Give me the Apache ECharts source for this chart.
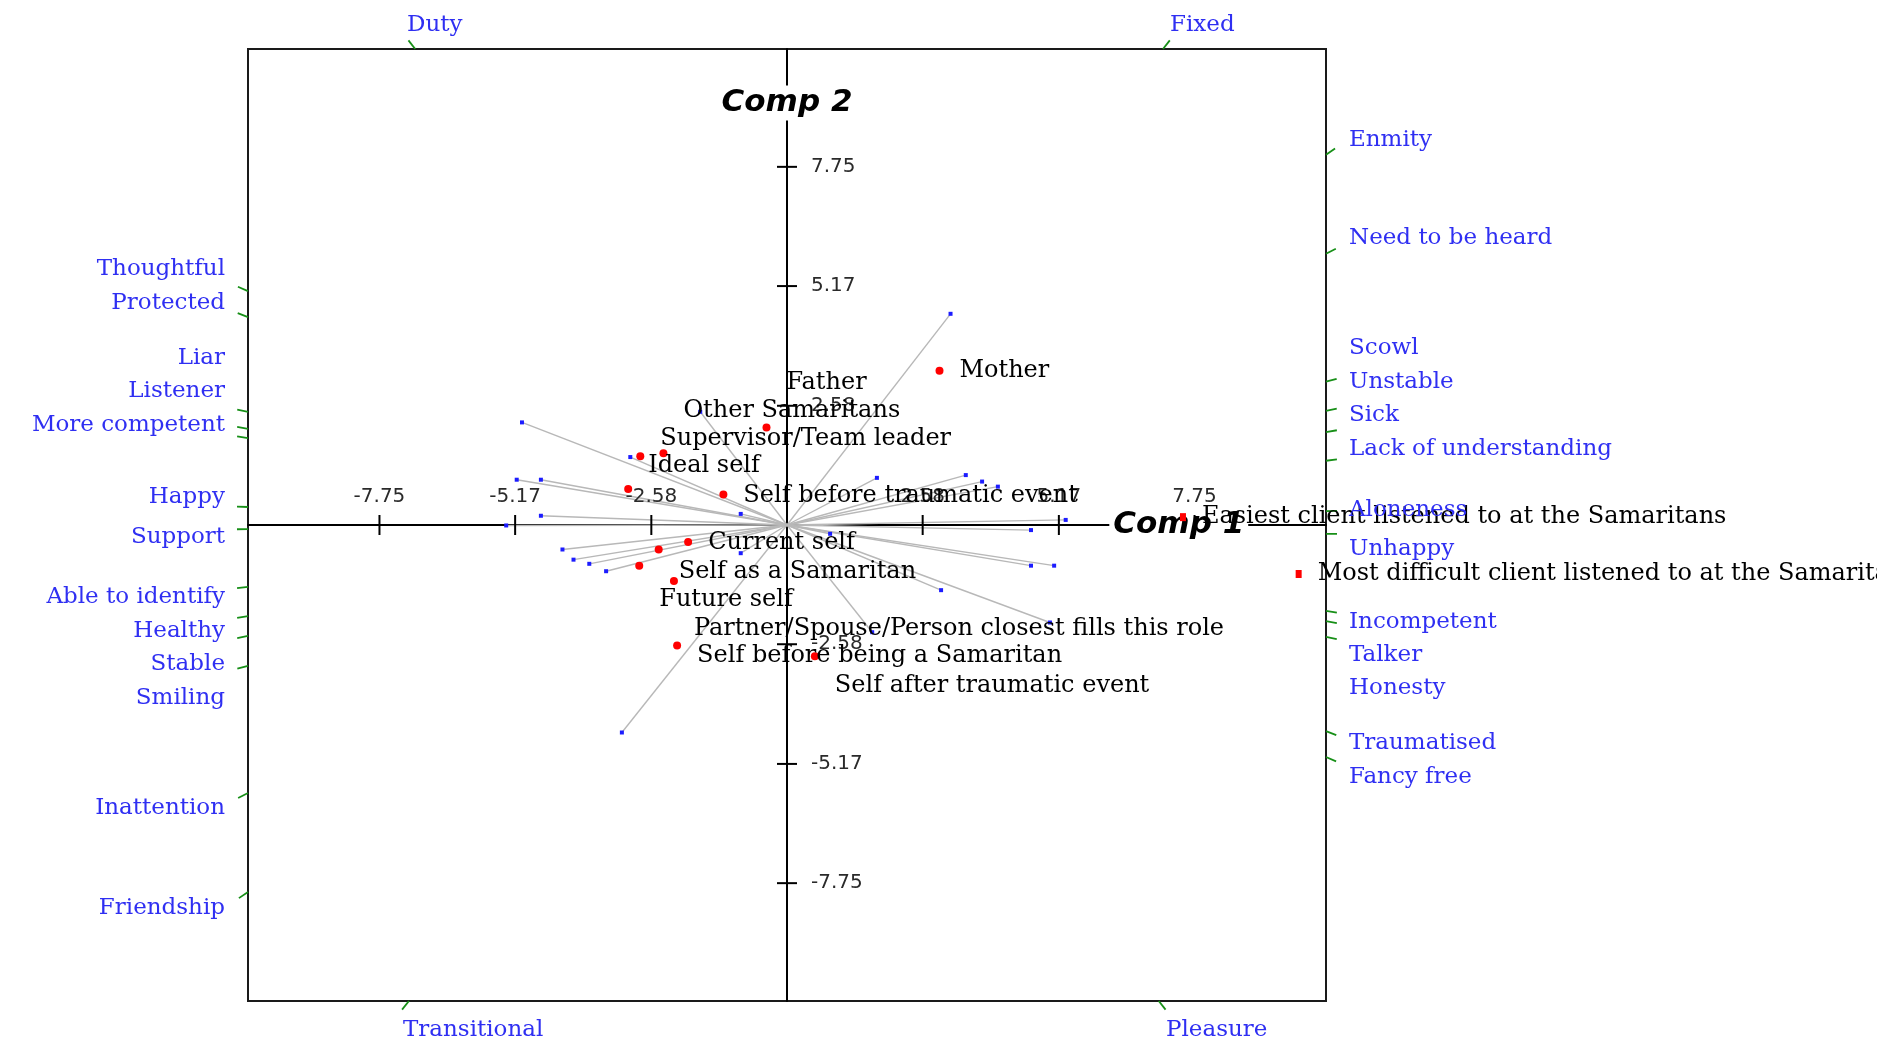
<!DOCTYPE html>
<html>
<head>
<meta charset="utf-8">
<title>Repertory grid biplot</title>
<script src="https://cdn.jsdelivr.net/npm/echarts@6/dist/echarts.min.js"></script>
<style>
  html, body { margin: 0; padding: 0; background: #fff; }
  #chart { width: 1877px; height: 1042px; }
</style>
</head>
<body>
<div id="chart"></div>
<script>
// elements (red points)
const elementNames = [
  'Mother', 'Father', 'Other Samaritans', 'Supervisor/Team leader', 'Ideal self',
  'Self before traumatic event', 'Current self', 'Self as a Samaritan', 'Future self',
  'Partner/Spouse/Person closest fills this role', 'Self before being a Samaritan',
  'Self after traumatic event', 'Easiest client listened to at the Samaritans',
  'Most difficult client listened to at the Samaritans'
]
const elementX = [2.90, -0.39, -2.35, -2.79, -3.02, -1.21, -1.88, -2.44, -2.81, -2.15, -2.09, 0.53, 7.53, 9.73]
const elementY = [3.34, 2.11, 1.55, 1.49, 0.78, 0.66, -0.37, -0.53, -0.88, -1.21, -2.61, -2.84, 0.17, -1.06]

// construct vectors (grey lines ending in blue points)
const vectorX = [-5.04, -5.14, -4.68, -4.68, -5.34, -2.98, -0.88, -0.88, -4.27, -4.06, -3.76, -3.44, -3.14, -1.65,
  3.11, 1.71, 3.40, 3.71, 4.01, 5.30, 4.64, 4.64, 5.08, 2.93, 5.00, 0.82, 1.62]
const vectorY = [2.22, 0.98, 0.98, 0.20, -0.01, 1.47, 0.24, -0.61, -0.53, -0.75, -0.84, -1.00, -4.49, 2.45,
  4.57, 1.02, 1.08, 0.94, 0.83, 0.11, -0.11, -0.88, -0.88, -1.41, -2.11, -0.19, -2.32]

// axis ticks
const xTicks = [-7.75, -5.17, -2.58, 2.58, 5.17, 7.75]
const yTicks = [-7.75, -5.17, -2.58, 2.58, 5.17, 7.75]
const tickLabels = ['-7.75', '-5.17', '-2.58', '2.58', '5.17', '7.75']

// construct poles on the frame
const leftPoles = ['Thoughtful', 'Protected', 'Liar', 'Listener', 'More competent', 'Happy', 'Support',
  'Able to identify', 'Healthy', 'Stable', 'Smiling', 'Inattention', 'Friendship']
const leftPoleY = [5.06, 4.50, 2.45, 2.08, 1.88, 0.39, -0.09, -1.34, -1.97, -2.40, -3.05, -5.80, -7.94]
const rightPoles = ['Enmity', 'Need to be heard', 'Scowl', 'Unstable', 'Sick', 'Lack of understanding',
  'Aloneness', 'Unhappy', 'Incompetent', 'Talker', 'Honesty', 'Traumatised', 'Fancy free']
const rightPoleY = [8.01, 5.87, 3.10, 2.47, 2.01, 1.39, 0.30, -0.19, -1.86, -2.08, -2.42, -4.46, -5.02]
const topPoles = ['Duty', 'Fixed']
const topPoleX = [-7.07, 7.15]
const bottomPoles = ['Transitional', 'Pleasure']
const bottomPoleX = [-7.19, 7.07]

// layout only
const X_MIN = -10.25, X_MAX = 10.25, Y_MIN = -10.3, Y_MAX = 10.3
const elementLabelDy = [0, -45, -43, -17, -23, 1, 1, 22, 34, 48, 10, 30, 0, 0]
const elementSymbol = ['circle', 'circle', 'circle', 'circle', 'circle', 'circle', 'circle',
  'circle', 'circle', 'circle', 'circle', 'circle', 'rect', 'rect']
const leftLabelTop = [269, 303, 358, 391, 425, 497, 537, 597, 631, 664, 698, 808, 908]
const rightLabelTop = [140, 238, 348, 382, 415, 449, 510, 549, 622, 655, 688, 743, 777]

const serif = '"DejaVu Serif", serif'
const poleColor = '#2f2ff2'
const poleSize = 23
const elementSize = 24

const chart = echarts.init(document.getElementById('chart'))

const poleData = []
leftPoleY.forEach(y => poleData.push([X_MIN, y]))
rightPoleY.forEach(y => poleData.push([X_MAX, y]))
topPoleX.forEach(x => poleData.push([x, Y_MAX]))
bottomPoleX.forEach(x => poleData.push([x, Y_MIN]))

const poleText = (text, x, y, align) => ({
  type: 'text',
  x: x,
  y: y,
  z: 10,
  style: {
    text: text,
    fill: poleColor,
    font: poleSize + 'px ' + serif,
    align: align,
    textAlign: align,
    verticalAlign: 'middle',
    textVerticalAlign: 'middle'
  }
})

const graphics = []
leftPoles.forEach((t, i) => graphics.push(poleText(t, 225, leftLabelTop[i], 'right')))
rightPoles.forEach((t, i) => graphics.push(poleText(t, 1349, rightLabelTop[i], 'left')))
graphics.push(poleText(topPoles[0], 407, 25, 'left'))
graphics.push(poleText(topPoles[1], 1170, 25, 'left'))
graphics.push(poleText(bottomPoles[0], 403, 1030, 'left'))
graphics.push(poleText(bottomPoles[1], 1166, 1030, 'left'))

const option = {
  animation: false,
  backgroundColor: '#fff',
  grid: {
    left: 248,
    top: 49,
    width: 1078,
    height: 952,
    show: true,
    borderColor: '#1a1a1a',
    borderWidth: 2
  },
  xAxis: {
    type: 'value',
    min: X_MIN,
    max: X_MAX,
    axisLine: { onZero: true, lineStyle: { color: '#000', width: 2 } },
    axisTick: { show: false },
    axisLabel: { show: false },
    splitLine: { show: false }
  },
  yAxis: {
    type: 'value',
    min: Y_MIN,
    max: Y_MAX,
    axisLine: { onZero: true, lineStyle: { color: '#000', width: 2 } },
    axisTick: { show: false },
    axisLabel: { show: false },
    splitLine: { show: false }
  },
  graphic: graphics,
  series: [
    {
      type: 'lines',
      coordinateSystem: 'cartesian2d',
      z: 2,
      silent: true,
      lineStyle: { color: '#b8b8b8', width: 1.4, opacity: 1 },
      data: vectorX.map((x, i) => ({ coords: [[0, 0], [x, vectorY[i]]] }))
    },
    {
      type: 'scatter',
      z: 3,
      symbol: 'rect',
      symbolSize: [4, 4],
      itemStyle: { color: '#1c1cff', opacity: 1 },
      data: vectorX.map((x, i) => [x, vectorY[i]])
    },
    {
      // Comp labels hide the axis line behind them
      type: 'scatter',
      z: 4,
      symbolSize: 0,
      itemStyle: { opacity: 1 },
      label: {
        show: true,
        position: 'inside',
        formatter: '{b}',
        fontFamily: '"DejaVu Sans", sans-serif',
        fontWeight: 'bold',
        fontStyle: 'italic',
        fontSize: 31,
        color: '#000',
        backgroundColor: '#fff',
        padding: [2, 4]
      },
      data: [
        { name: 'Comp 1', value: [7.45, 0] },
        { name: 'Comp 2', value: [0, 9.13] }
      ]
    },
    {
      type: 'scatter',
      z: 5,
      symbol: 'rect',
      symbolSize: [2, 20],
      itemStyle: { color: '#000', opacity: 1 },
      label: {
        show: true,
        position: 'inside',
        offset: [0, -28],
        formatter: p => tickLabels[p.dataIndex],
        fontFamily: '"DejaVu Sans", sans-serif',
        fontSize: 20,
        color: '#2a2a2a'
      },
      data: xTicks.map(x => [x, 0])
    },
    {
      type: 'scatter',
      z: 5,
      symbol: 'rect',
      symbolSize: [20, 2],
      itemStyle: { color: '#000', opacity: 1 },
      label: {
        show: true,
        position: 'right',
        distance: 14,
        formatter: p => tickLabels[p.dataIndex],
        fontFamily: '"DejaVu Sans", sans-serif',
        fontSize: 20,
        color: '#2a2a2a'
      },
      data: yTicks.map(y => [0, y])
    },
    {
      type: 'custom',
      z: 6,
      silent: true,
      renderItem: (params, api) => {
        const p = api.coord([api.value(0), api.value(1)])
        const o = api.coord([0, 0])
        const dx = p[0] - o[0], dy = p[1] - o[1]
        const len = Math.sqrt(dx * dx + dy * dy)
        return {
          type: 'line',
          shape: { x1: p[0], y1: p[1], x2: p[0] + dx / len * 11, y2: p[1] + dy / len * 11 },
          style: { stroke: '#178f17', lineWidth: 1.8 }
        }
      },
      data: poleData
    },
    {
      type: 'scatter',
      z: 8,
      itemStyle: { color: '#f00', opacity: 1 },
      label: {
        show: true,
        position: 'right',
        distance: 16,
        formatter: '{b}',
        fontFamily: serif,
        fontSize: elementSize,
        color: '#000'
      },
      data: elementNames.map((name, i) => ({
        name: name,
        value: [elementX[i], elementY[i]],
        symbol: elementSymbol[i],
        symbolSize: elementSymbol[i] === 'rect' ? [6, 8] : 8,
        label: { offset: [0, elementLabelDy[i]] }
      }))
    }
  ]
}

chart.setOption(option)
</script>
</body>
</html>
